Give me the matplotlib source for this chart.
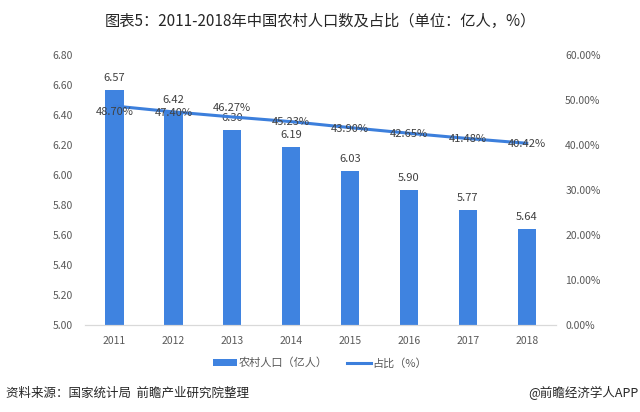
import numpy as np
import matplotlib.pyplot as plt

plt.rcParams['font.family'] = ['Noto Sans CJK SC', 'DejaVu Sans']

years = ['2011', '2012', '2013', '2014', '2015', '2016', '2017', '2018']
rural_pop = [6.57, 6.42, 6.30, 6.19, 6.03, 5.90, 5.77, 5.64]
share = [48.70, 47.40, 46.27, 45.23, 43.90, 42.65, 41.48, 40.42]

# vertical nudge (points) of the % labels, as in the original
label_dy = [-4, -0.5, 6.5, -0.5, -1, -0.5, -0.5, -0.5]

bar_color = '#3f83e0'
line_color = '#3c7fdc'
text_gray = '#595959'

fig = plt.figure(figsize=(6.4, 4.12), dpi=100)
ax = fig.add_axes([0.133, 0.211, 0.736, 0.655])
ax2 = ax.twinx()

x = np.arange(len(years))
bars = ax.bar(x, rural_pop, width=0.31, color=bar_color, zorder=2)
line, = ax2.plot(x, share, color=line_color, lw=2.2, zorder=3)

ax.set_xlim(-0.5, len(years) - 0.5)
ax.set_ylim(5.0, 6.8)
ax.set_yticks(np.arange(5.0, 6.81, 0.2))
ax.set_yticklabels(['%.2f' % v for v in np.arange(5.0, 6.81, 0.2)])
ax2.set_ylim(0, 60)
ax2.set_yticks(np.arange(0, 61, 10))
ax2.set_yticklabels(['%.2f%%' % v for v in np.arange(0, 61, 10)])
ax.set_xticks(x)
ax.set_xticklabels(years)

for a in (ax, ax2):
    for s in ['top', 'left', 'right']:
        a.spines[s].set_visible(False)
    a.spines['bottom'].set_color('#d9d9d9')
    a.tick_params(length=0, labelsize=7.5, colors=text_gray)
ax.tick_params(axis='x', pad=8)
ax.tick_params(axis='y', pad=9)
ax2.tick_params(axis='y', pad=6.5)

for xi, v in zip(x, rural_pop):
    ax.annotate('%.2f' % v, (xi, v), xytext=(0, 5), textcoords='offset points',
                ha='center', va='bottom', fontsize=8, color='#404040')
for xi, v, dy in zip(x, share, label_dy):
    ax2.annotate('%.2f%%' % v, (xi, v), xytext=(0, dy), textcoords='offset points',
                 ha='center', va='center', fontsize=8, color='#404040', zorder=4)

fig.legend([bars, line], ['农村人口（亿人）', '占比（%）'], loc='center',
           bbox_to_anchor=(0.5, 0.119), ncol=2, frameon=False, fontsize=8,
           labelcolor=text_gray, handlelength=2.1, handleheight=0.6,
           columnspacing=1.8, handletextpad=0.15)

fig.text(0.5, 0.949, '图表5：2011-2018年中国农村人口数及占比（单位：亿人，%）',
         ha='center', va='center', fontsize=11, color='#262626')
fig.text(0.01, 0.046, '资料来源：国家统计局  前瞻产业研究院整理', ha='left', va='center',
         fontsize=9, style='italic', color='#262626')
fig.text(0.997, 0.046, '@前瞻经济学人APP', ha='right', va='center',
         fontsize=9, color='#262626')

fig.savefig('out.png', dpi=100)
